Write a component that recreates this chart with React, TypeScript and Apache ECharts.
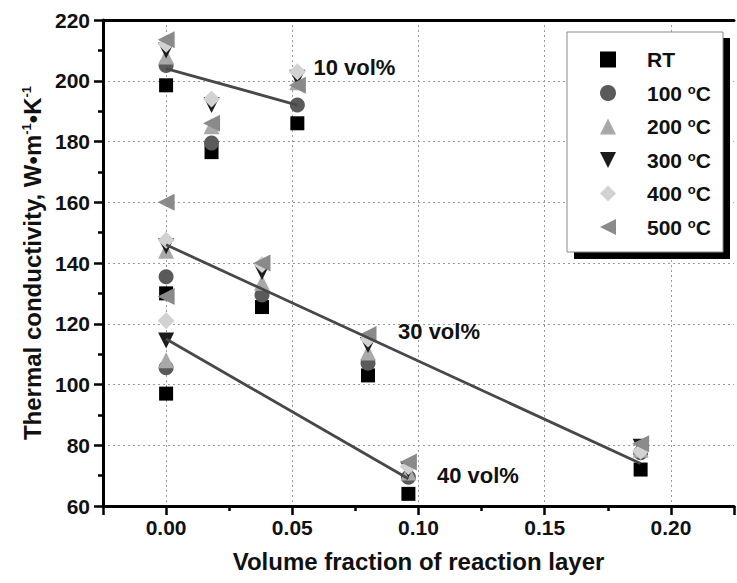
import React, { useEffect, useRef } from 'react';
import * as echarts from 'echarts';

// Test temperatures (legend order)
const temperatures = ['RT', '100 °C', '200 °C', '300 °C', '400 °C', '500 °C'];

// Volume fraction of reaction layer for each composite
const fraction10 = [0, 0.018, 0.052];
const fraction30 = [0, 0.038, 0.08, 0.188];
const fraction40 = [0, 0.096];

// Thermal conductivity (W·m-1·K-1), one row per temperature, one column per fraction
const cond10 = [
  [198.5, 176.5, 186],
  [205, 179.5, 192],
  [208, 185, 199.5],
  [210, 192, 201],
  [212, 194, 203],
  [213.5, 186, 198.5],
];
const cond30 = [
  [130, 125.5, 103, 72],
  [135.5, 129.5, 107, 77.5],
  [144, 133.5, 110.5, 78.5],
  [145.5, 137, 113, 79.5],
  [147.5, 139.5, 115, 78],
  [160, 140, 116.5, 80.5],
];
const cond40 = [
  [97, 64],
  [105.5, 69.5],
  [108, 71],
  [114.5, 72],
  [121, 73],
  [129, 74.5],
];

// Linear trend lines for each composite
const trendLabels = ['10 vol%', '30 vol%', '40 vol%'];
const trendX = [
  [0, 0.052],
  [0, 0.188],
  [0, 0.096],
];
const trendY = [
  [204, 192],
  [146, 74],
  [115, 69],
];
// Where each trend label sits, in data units
const trendLabelAt = [
  [0.0584, 204.2],
  [0.0919, 117.3],
  [0.1073, 69.9],
];

const symbols = ['rect', 'circle', 'triangle', 'triangle', 'diamond', 'triangle'];
const symbolRotations = [0, 0, 0, 180, 0, 90];
const symbolSizes = [14, 15, 16, 16, 17, 17];
const colors = ['#000000', '#5a5a5a', '#a9a9a9', '#1c1c1c', '#d2d2d2', '#8a8a8a'];
// Legend keys: the rotated triangles are spelled out as paths
const legendIcons = [
  'rect',
  'circle',
  'triangle',
  'path://M0,0L10,0L5,10Z',
  'diamond',
  'path://M0,5L10,0L10,10Z',
];

const FONT = '"Liberation Sans", Arial, sans-serif';

function pairs(xs: number[], ys: number[]) {
  return xs.map((x, i) => [x, ys[i]]);
}

export default function App() {
  const ref = useRef<HTMLDivElement>(null);

  useEffect(() => {
    if (!ref.current) return;
    const chart = echarts.init(ref.current, null, { renderer: 'svg' });

    const scatterSeries = temperatures.map((name, i) => ({
      name,
      type: 'scatter',
      symbol: symbols[i],
      symbolRotate: symbolRotations[i],
      symbolSize: symbolSizes[i],
      itemStyle: { color: colors[i], opacity: 1 },
      z: 2,
      data: [
        ...pairs(fraction10, cond10[i]),
        ...pairs(fraction30, cond30[i]),
        ...pairs(fraction40, cond40[i]),
      ],
    }));

    const trendSeries = trendLabels.map((label, i) => ({
      name: label,
      type: 'line',
      showSymbol: false,
      z: 3,
      lineStyle: { color: '#484848', width: 2.8 },
      data: pairs(trendX[i], trendY[i]),
      markPoint: {
        symbol: 'circle',
        symbolSize: 0,
        itemStyle: { color: 'transparent' },
        label: {
          show: true,
          position: 'right',
          distance: 0,
          formatter: label,
          color: '#111',
          fontSize: 22,
          fontWeight: 'bold',
          fontFamily: FONT,
        },
        data: [{ coord: trendLabelAt[i], value: label }],
      },
    }));

    const supRich = {
      sup: { fontSize: 13, fontWeight: 'bold', fontFamily: FONT, verticalAlign: 'top', color: '#111' },
    };

    chart.setOption({
      animation: false,
      backgroundColor: '#ffffff',
      grid: { left: 103, right: 0, top: 20, bottom: 77, containLabel: false },
      graphic: [
        {
          type: 'rect',
          z: 5,
          shape: { x: 574, y: 38, width: 156, height: 221 },
          style: { fill: '#000' },
        },
        {
          type: 'rect',
          z: 5,
          shape: { x: 567, y: 32, width: 156, height: 220 },
          style: { fill: '#fff', stroke: '#8a8a8a', lineWidth: 1 },
        },
      ],
      legend: {
        z: 10,
        orient: 'vertical',
        left: 595,
        top: 44,
        itemWidth: 16,
        itemHeight: 16,
        itemGap: 12.5,
        symbolRotate: 0,
        data: temperatures.map((name, i) => ({
          name,
          icon: legendIcons[i],
          itemStyle: { color: colors[i] },
        })),
        formatter: (name: string) => name.replace(' °C', ' {sup|o}C'),
        textStyle: {
          fontSize: 21,
          fontWeight: 'bold',
          fontFamily: FONT,
          color: '#111',
          padding: [0, 0, 0, 26],
          rich: supRich,
        },
      },
      xAxis: [
        {
          type: 'value',
          min: -0.025,
          max: 0.225,
          position: 'bottom',
          name: 'Volume fraction of reaction layer',
          nameLocation: 'middle',
          nameGap: 43,
          nameTextStyle: { fontSize: 24, fontWeight: 'bold', fontFamily: FONT, color: '#111' },
          axisLine: { onZero: false, lineStyle: { color: '#000', width: 3 } },
          axisTick: { length: 9, lineStyle: { color: '#000', width: 2.5 } },
          minorTick: { show: true, splitNumber: 2, length: 5, lineStyle: { color: '#000', width: 2.5 } },
          axisLabel: {
            margin: 11,
            fontSize: 21,
            fontWeight: 'bold',
            fontFamily: FONT,
            color: '#111',
            showMinLabel: true,
            showMaxLabel: true,
            formatter: (v: number) => (v < -1e-9 || v > 0.2 + 1e-9 ? '' : v.toFixed(2)),
          },
          splitLine: {
            show: true,
            showMinLine: false,
            showMaxLine: false,
            lineStyle: { color: '#999', width: 1, type: [2, 3] },
          },
        },
        {
          type: 'value',
          min: -0.025,
          max: 0.225,
          position: 'top',
          axisLine: { onZero: false, lineStyle: { color: '#000', width: 3 } },
          axisTick: { show: false },
          axisLabel: { show: false },
          splitLine: { show: false },
        },
      ],
      yAxis: {
        type: 'value',
        min: 60,
        max: 220,
        interval: 20,
        name: 'Thermal conductivity, W•m{sup|-1}•K{sup|-1}',
        nameLocation: 'middle',
        nameGap: 57,
        nameTextStyle: {
          fontSize: 24,
          fontWeight: 'bold',
          fontFamily: FONT,
          color: '#111',
          rich: supRich,
        },
        axisLine: { show: true, onZero: false, lineStyle: { color: '#000', width: 3 } },
        axisTick: { show: true, length: 9, lineStyle: { color: '#000', width: 2.5 } },
        minorTick: { show: true, splitNumber: 2, length: 5, lineStyle: { color: '#000', width: 2.5 } },
        axisLabel: {
          margin: 13,
          fontSize: 21,
          fontWeight: 'bold',
          fontFamily: FONT,
          color: '#111',
        },
        splitLine: {
          show: true,
          showMinLine: false,
          showMaxLine: false,
          lineStyle: { color: '#999', width: 1, type: [2, 3] },
        },
      },
      series: [...scatterSeries, ...trendSeries],
    });

    return () => chart.dispose();
  }, []);

  return (
    <div
      ref={ref}
      style={{ position: 'fixed', left: 0, top: 0, width: 737, height: 583 }}
    />
  );
}
